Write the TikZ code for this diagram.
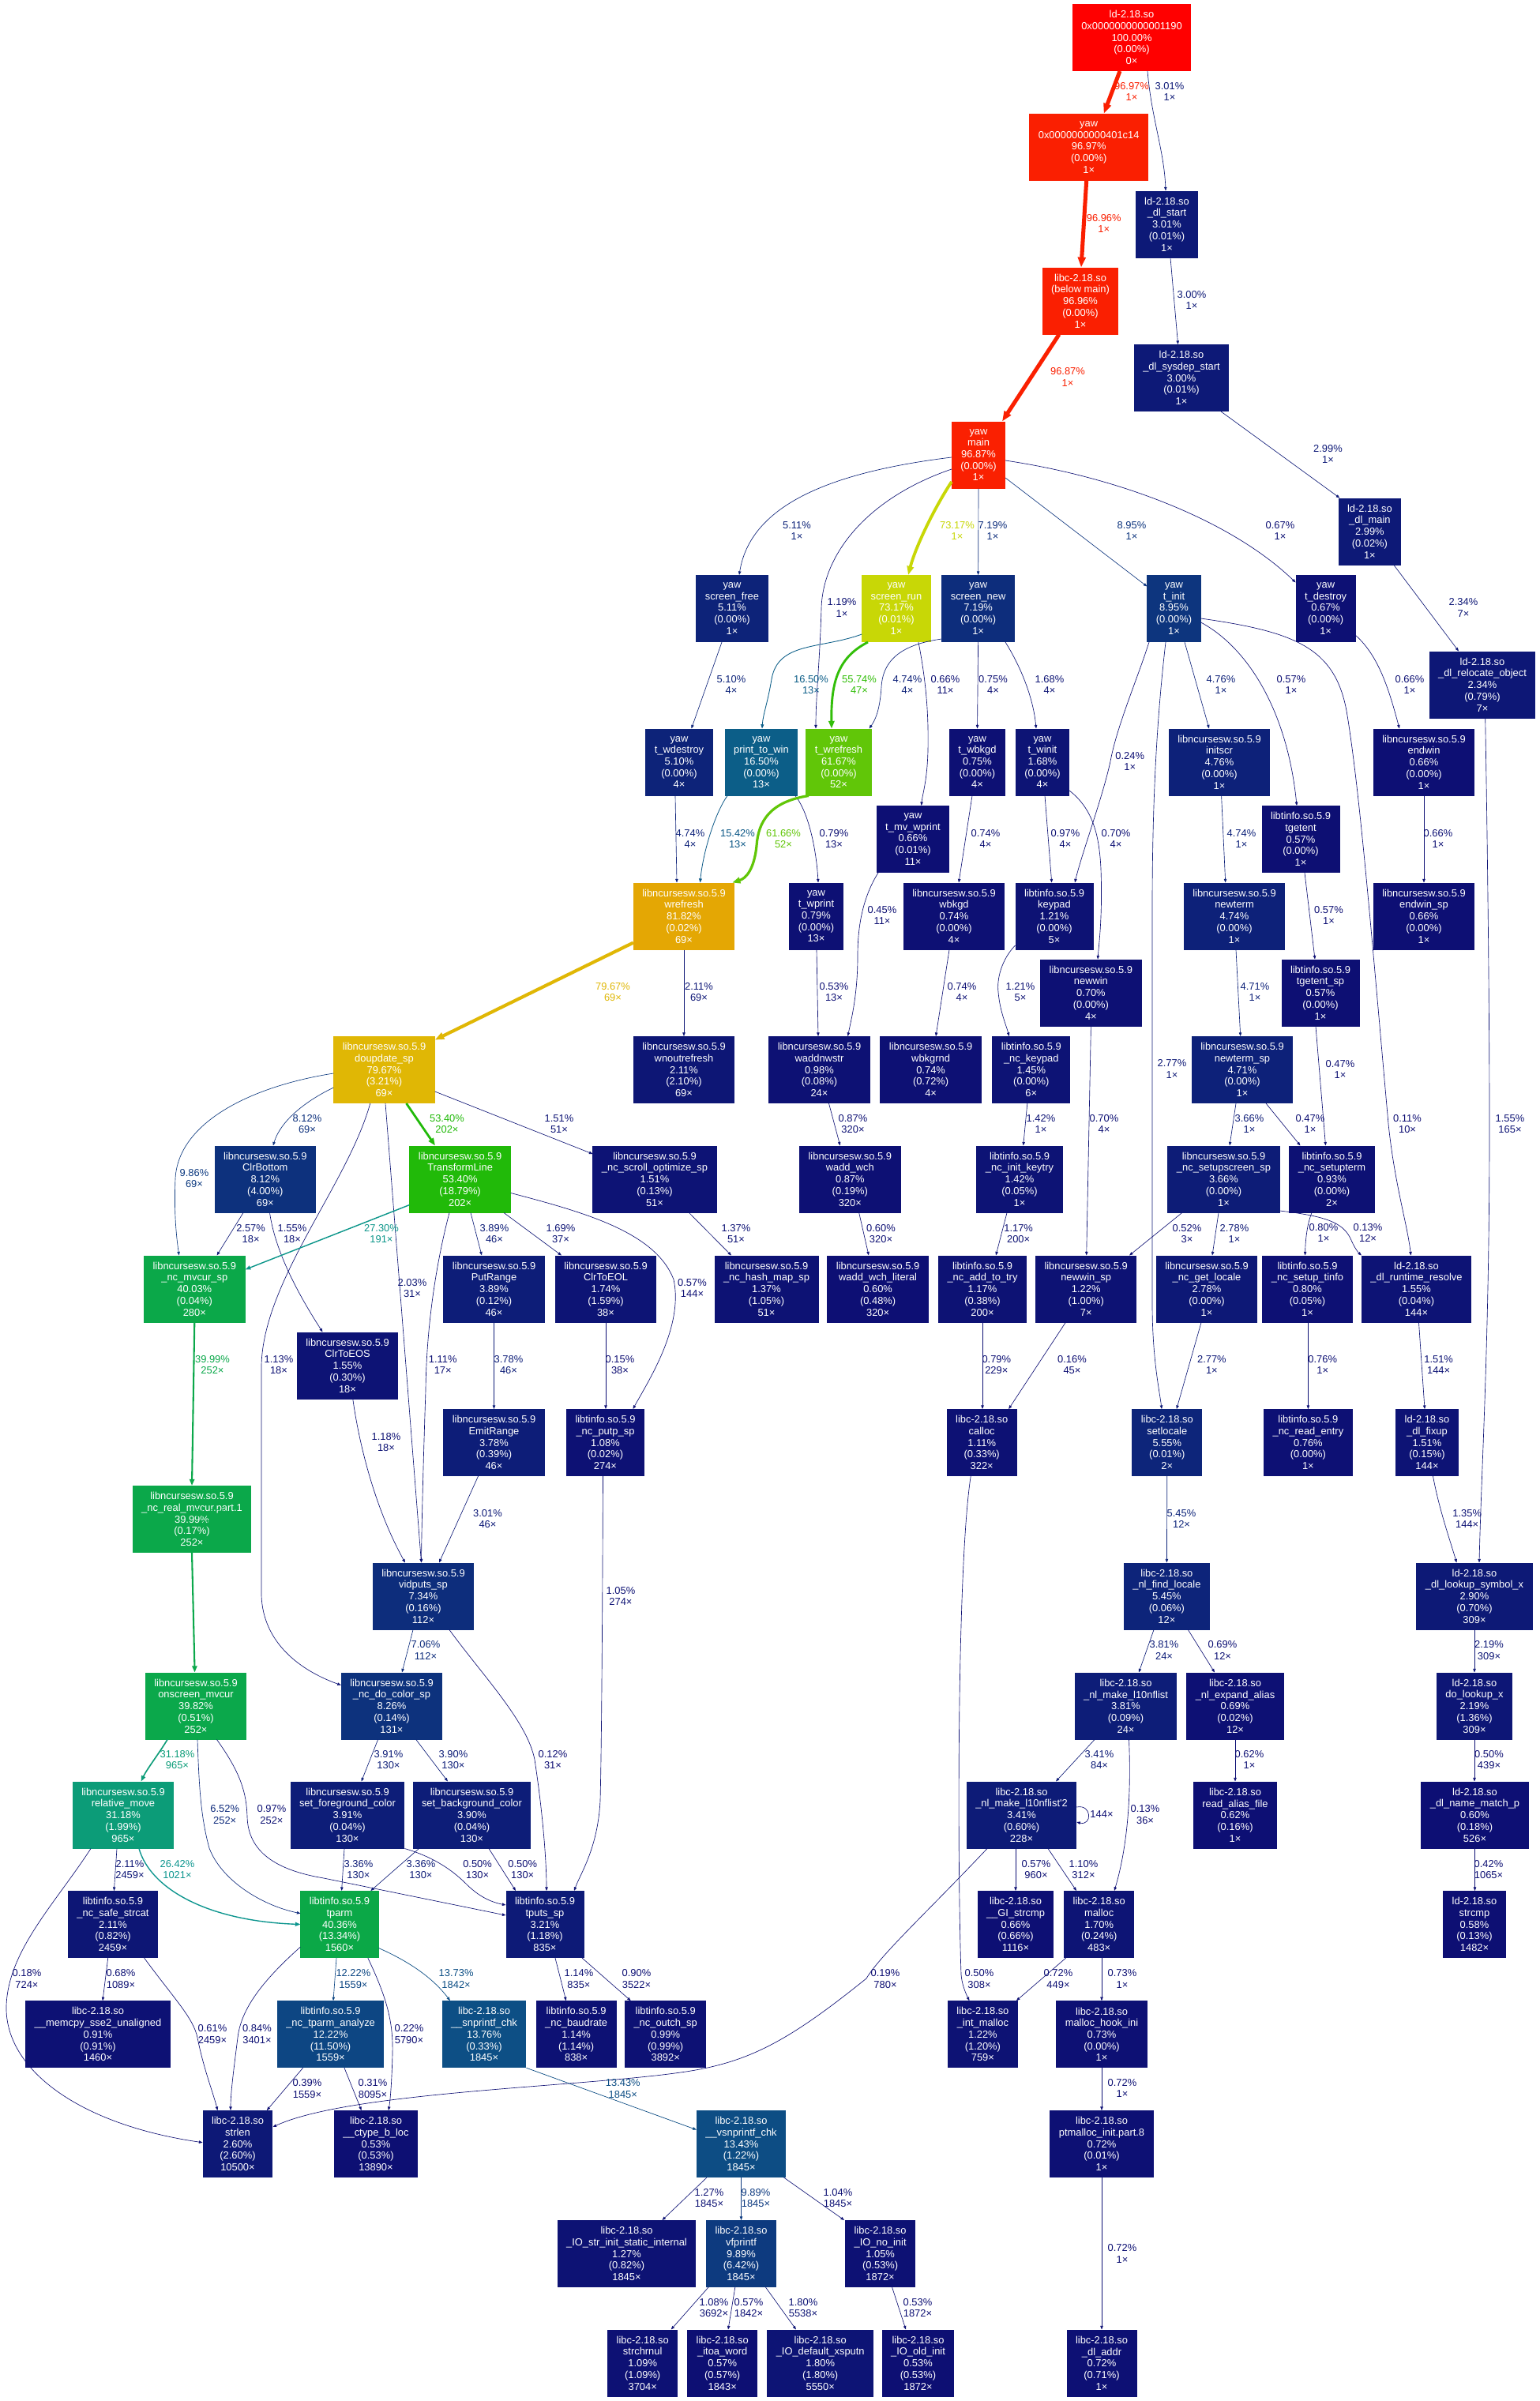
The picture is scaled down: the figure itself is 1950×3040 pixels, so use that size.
\documentclass[tikz,border=0pt]{standalone}
\usepackage{fontspec}
\setmainfont{Liberation Sans}
\usetikzlibrary{arrows.meta}

% hue -> channel helper of the HSL colour model
\newcommand\huergb[4]{%
  \pgfmathsetmacro\hhv{#3}%
  \pgfmathsetmacro\hhv{\hhv-floor(\hhv)}%
  \pgfmathsetmacro#4{#1}%
  \pgfmathparse{\hhv<1/6}%
  \ifdim\pgfmathresult pt>0.5pt
    \pgfmathsetmacro#4{#1+(#2-#1)*6*\hhv}%
  \else
    \pgfmathparse{\hhv<0.5}%
    \ifdim\pgfmathresult pt>0.5pt
      \pgfmathsetmacro#4{#2}%
    \else
      \pgfmathparse{\hhv<2/3}%
      \ifdim\pgfmathresult pt>0.5pt
        \pgfmathsetmacro#4{#1+(#2-#1)*(2/3-\hhv)*6}%
      \fi
    \fi
  \fi
  \pgfmathsetmacro#4{max(0,min(1,#4))}}

% temperature colour: blue (cold) -> red (hot), from a percentage
\newcommand\gpcol[2]{%
  \pgfmathsetmacro\gpw{min(1,max(0,#2/100))}%
  \pgfmathsetmacro\gph{2/3*(1-\gpw)}%
  \pgfmathsetmacro\gps{0.8+0.2*\gpw}%
  \pgfmathsetmacro\gpl{0.25+0.25*\gpw}%
  \pgfmathsetmacro\gpmb{\gpl*(\gps+1)}%
  \pgfmathsetmacro\gpma{2*\gpl-\gpmb}%
  \huergb\gpma\gpmb{\gph+1/3}\gpr
  \huergb\gpma\gpmb{\gph}\gpg
  \huergb\gpma\gpmb{\gph-1/3}\gpb
  \definecolor{#1}{rgb}{\gpr,\gpg,\gpb}}

% function box: name, x, y, library, function, total %, self %, calls
\newcommand\fnode[8]{%
  \gpcol{fc-#1}{#6}%
  \node[fnbox, fill=fc-#1] (#1) at (#2,#3) {#4\\#5\\#6\%\\(#7\%)\\#8×};}

% call edge: percent, calls, label x, label y, path
\newcounter{elab}
\newcommand\cedge[5]{%
  \gpcol{ec}{#1}%
  \pgfmathsetmacro\epw{1.3*max(0.04*#1,0.5)}%
  \pgfmathsetmacro\eal{6.5*sqrt(max(0.04*#1,0.5))}%
  \pgfmathsetmacro\eaw{0.75*\eal}%
  \stepcounter{elab}%
  \node[elab, text=ec] (lab\theelab) at (#3,#4) {#1\%\\#2×};
  \draw[draw=ec, line width=\epw pt, -{Triangle[length=\eal pt, width=\eaw pt]}] #5;}

\begin{document}
\begin{tikzpicture}[x=1pt,y=-1pt,
  every node/.style={font=\fontsize{12.9}{14.7}\selectfont},
  fnbox/.style={rectangle, inner xsep=11.5pt, inner ysep=0pt, minimum height=85pt,
    align=center, text=white, outer sep=0pt},
  elab/.style={inner sep=0pt, align=center}]

\fill[white] (0,0) rectangle (1950,3040);
\useasboundingbox (0,0) rectangle (1950,3040);

% ---------------- functions ----------------
\fnode{ldtop}{1433}{47.5}{ld-2.18.so}{0x0000000000001190}{100.00}{0.00}{0}
\fnode{yawent}{1378.7}{186.3}{yaw}{0x0000000000401c14}{96.97}{0.00}{1}
\fnode{dlstart}{1477.5}{284}{ld-2.18.so}{\_dl\_start}{3.01}{0.01}{1}
\fnode{belowmain}{1368}{381}{libc-2.18.so}{(below main)}{96.96}{0.00}{1}
\fnode{sysdep}{1496}{478.5}{ld-2.18.so}{\_dl\_sysdep\_start}{3.00}{0.01}{1}
\fnode{main}{1239}{576}{yaw}{main}{96.87}{0.00}{1}
\fnode{dlmain}{1734.4}{673}{ld-2.18.so}{\_dl\_main}{2.99}{0.02}{1}
\fnode{screenfree}{927}{770.5}{yaw}{screen\_free}{5.11}{0.00}{1}
\fnode{screenrun}{1135}{770.5}{yaw}{screen\_run}{73.17}{0.01}{1}
\fnode{screennew}{1238.6}{770.5}{yaw}{screen\_new}{7.19}{0.00}{1}
\fnode{tinit}{1486.5}{770.5}{yaw}{t\_init}{8.95}{0.00}{1}
\fnode{tdestroy}{1678.6}{770.5}{yaw}{t\_destroy}{0.67}{0.00}{1}
\fnode{reloc}{1877}{867}{ld-2.18.so}{\_dl\_relocate\_object}{2.34}{0.79}{7}
\fnode{twdestroy}{860}{965}{yaw}{t\_wdestroy}{5.10}{0.00}{4}
\fnode{printwin}{964}{965}{yaw}{print\_to\_win}{16.50}{0.00}{13}
\fnode{twrefresh}{1062}{965}{yaw}{t\_wrefresh}{61.67}{0.00}{52}
\fnode{twbkgd}{1237.5}{965}{yaw}{t\_wbkgd}{0.75}{0.00}{4}
\fnode{twinit}{1320}{965}{yaw}{t\_winit}{1.68}{0.00}{4}
\fnode{initscr}{1544}{965}{libncursesw.so.5.9}{initscr}{4.76}{0.00}{1}
\fnode{endwin}{1803}{965}{libncursesw.so.5.9}{endwin}{0.66}{0.00}{1}
\fnode{tmvwprint}{1156}{1062.5}{yaw}{t\_mv\_wprint}{0.66}{0.01}{11}
\fnode{tgetent}{1647}{1062.5}{libtinfo.so.5.9}{tgetent}{0.57}{0.00}{1}
\fnode{wrefresh}{866}{1160}{libncursesw.so.5.9}{wrefresh}{81.82}{0.02}{69}
\fnode{twprint}{1033.5}{1160}{yaw}{t\_wprint}{0.79}{0.00}{13}
\fnode{wbkgd}{1208}{1160}{libncursesw.so.5.9}{wbkgd}{0.74}{0.00}{4}
\fnode{keypad}{1335}{1160}{libtinfo.so.5.9}{keypad}{1.21}{0.00}{5}
\fnode{newterm}{1563}{1160}{libncursesw.so.5.9}{newterm}{4.74}{0.00}{1}
\fnode{endwinsp}{1803}{1160}{libncursesw.so.5.9}{endwin\_sp}{0.66}{0.00}{1}
\fnode{newwin}{1381.4}{1257}{libncursesw.so.5.9}{newwin}{0.70}{0.00}{4}
\fnode{tgetentsp}{1672}{1257}{libtinfo.so.5.9}{tgetent\_sp}{0.57}{0.00}{1}
\fnode{doupdate}{486.5}{1354.5}{libncursesw.so.5.9}{doupdate\_sp}{79.67}{3.21}{69}
\fnode{wnoutrefresh}{866}{1354.5}{libncursesw.so.5.9}{wnoutrefresh}{2.11}{2.10}{69}
\fnode{waddnwstr}{1037.5}{1354.5}{libncursesw.so.5.9}{waddnwstr}{0.98}{0.08}{24}
\fnode{wbkgrnd}{1178.6}{1354.5}{libncursesw.so.5.9}{wbkgrnd}{0.74}{0.72}{4}
\fnode{nckeypad}{1305.8}{1354.5}{libtinfo.so.5.9}{\_nc\_keypad}{1.45}{0.00}{6}
\fnode{newtermsp}{1573}{1354.5}{libncursesw.so.5.9}{newterm\_sp}{4.71}{0.00}{1}
\fnode{clrbottom}{335.8}{1493}{libncursesw.so.5.9}{ClrBottom}{8.12}{4.00}{69}
\fnode{transform}{582.6}{1493}{libncursesw.so.5.9}{TransformLine}{53.40}{18.79}{202}
\fnode{scrollopt}{829}{1493}{libncursesw.so.5.9}{\_nc\_scroll\_optimize\_sp}{1.51}{0.13}{51}
\fnode{waddwch}{1076.3}{1493}{libncursesw.so.5.9}{wadd\_wch}{0.87}{0.19}{320}
\fnode{initkeytry}{1291}{1493}{libtinfo.so.5.9}{\_nc\_init\_keytry}{1.42}{0.05}{1}
\fnode{setupscreen}{1549.5}{1493}{libncursesw.so.5.9}{\_nc\_setupscreen\_sp}{3.66}{0.00}{1}
\fnode{setupterm}{1686.5}{1493}{libtinfo.so.5.9}{\_nc\_setupterm}{0.93}{0.00}{2}
\fnode{mvcursp}{246.3}{1632}{libncursesw.so.5.9}{\_nc\_mvcur\_sp}{40.03}{0.04}{280}
\fnode{putrange}{625.5}{1632}{libncursesw.so.5.9}{PutRange}{3.89}{0.12}{46}
\fnode{clrtoeol}{767}{1632}{libncursesw.so.5.9}{ClrToEOL}{1.74}{1.59}{38}
\fnode{hashmap}{970.5}{1632}{libncursesw.so.5.9}{\_nc\_hash\_map\_sp}{1.37}{1.05}{51}
\fnode{waddwchlit}{1111.6}{1632}{libncursesw.so.5.9}{wadd\_wch\_literal}{0.60}{0.48}{320}
\fnode{addtotry}{1244}{1632}{libtinfo.so.5.9}{\_nc\_add\_to\_try}{1.17}{0.38}{200}
\fnode{newwinsp}{1375.2}{1632}{libncursesw.so.5.9}{newwin\_sp}{1.22}{1.00}{7}
\fnode{getlocale}{1528}{1632}{libncursesw.so.5.9}{\_nc\_get\_locale}{2.78}{0.00}{1}
\fnode{setuptinfo}{1655.5}{1632}{libtinfo.so.5.9}{\_nc\_setup\_tinfo}{0.80}{0.05}{1}
\fnode{rtresolve}{1793.5}{1632}{ld-2.18.so}{\_dl\_runtime\_resolve}{1.55}{0.04}{144}
\fnode{clrtoeos}{440}{1729}{libncursesw.so.5.9}{ClrToEOS}{1.55}{0.30}{18}
\fnode{emitrange}{625.5}{1826.5}{libncursesw.so.5.9}{EmitRange}{3.78}{0.39}{46}
\fnode{putpsp}{766.5}{1826.5}{libtinfo.so.5.9}{\_nc\_putp\_sp}{1.08}{0.02}{274}
\fnode{calloc}{1243.2}{1826.5}{libc-2.18.so}{calloc}{1.11}{0.33}{322}
\fnode{setlocale}{1477.8}{1826.5}{libc-2.18.so}{setlocale}{5.55}{0.01}{2}
\fnode{readentry}{1656.4}{1826.5}{libtinfo.so.5.9}{\_nc\_read\_entry}{0.76}{0.00}{1}
\fnode{dlfixup}{1807}{1826.5}{ld-2.18.so}{\_dl\_fixup}{1.51}{0.15}{144}
\fnode{realmvcur}{243}{1923.5}{libncursesw.so.5.9}{\_nc\_real\_mvcur.part.1}{39.99}{0.17}{252}
\fnode{vidputs}{536}{2021}{libncursesw.so.5.9}{vidputs\_sp}{7.34}{0.16}{112}
\fnode{findlocale}{1477.4}{2021}{libc-2.18.so}{\_nl\_find\_locale}{5.45}{0.06}{12}
\fnode{lookupsym}{1867}{2021}{ld-2.18.so}{\_dl\_lookup\_symbol\_x}{2.90}{0.70}{309}
\fnode{onscreen}{248}{2160}{libncursesw.so.5.9}{onscreen\_mvcur}{39.82}{0.51}{252}
\fnode{docolor}{496}{2160}{libncursesw.so.5.9}{\_nc\_do\_color\_sp}{8.26}{0.14}{131}
\fnode{makel10n}{1425.5}{2160}{libc-2.18.so}{\_nl\_make\_l10nflist}{3.81}{0.09}{24}
\fnode{expandalias}{1564}{2160}{libc-2.18.so}{\_nl\_expand\_alias}{0.69}{0.02}{12}
\fnode{dolookup}{1867}{2160}{ld-2.18.so}{do\_lookup\_x}{2.19}{1.36}{309}
\fnode{relmove}{156}{2298}{libncursesw.so.5.9}{relative\_move}{31.18}{1.99}{965}
\fnode{setfg}{440}{2298}{libncursesw.so.5.9}{set\_foreground\_color}{3.91}{0.04}{130}
\fnode{setbg}{597.5}{2298}{libncursesw.so.5.9}{set\_background\_color}{3.90}{0.04}{130}
\fnode{makel10ntwo}{1293.5}{2298}{libc-2.18.so}{\_nl\_make\_l10nflist\textquotesingle 2}{3.41}{0.60}{228}
\fnode{readalias}{1564}{2298}{libc-2.18.so}{read\_alias\_file}{0.62}{0.16}{1}
\fnode{namematch}{1867.5}{2298}{ld-2.18.so}{\_dl\_name\_match\_p}{0.60}{0.18}{526}
\fnode{safestrcat}{143}{2436.5}{libtinfo.so.5.9}{\_nc\_safe\_strcat}{2.11}{0.82}{2459}
\fnode{tparm}{430}{2436.5}{libtinfo.so.5.9}{tparm}{40.36}{13.34}{1560}
\fnode{tputs}{690}{2436.5}{libtinfo.so.5.9}{tputs\_sp}{3.21}{1.18}{835}
\fnode{gistrcmp}{1286}{2436.5}{libc-2.18.so}{\_\_GI\_strcmp}{0.66}{0.66}{1116}
\fnode{malloc}{1391.7}{2436.5}{libc-2.18.so}{malloc}{1.70}{0.24}{483}
\fnode{ldstrcmp}{1867}{2436.5}{ld-2.18.so}{strcmp}{0.58}{0.13}{1482}
\fnode{memcpy}{124}{2575.7}{libc-2.18.so}{\_\_memcpy\_sse2\_unaligned}{0.91}{0.91}{1460}
\fnode{tparmanalyze}{418.6}{2575.7}{libtinfo.so.5.9}{\_nc\_tparm\_analyze}{12.22}{11.50}{1559}
\fnode{snprintf}{613}{2575.7}{libc-2.18.so}{\_\_snprintf\_chk}{13.76}{0.33}{1845}
\fnode{baudrate}{729.6}{2575.7}{libtinfo.so.5.9}{\_nc\_baudrate}{1.14}{1.14}{838}
\fnode{outch}{842.7}{2575.7}{libtinfo.so.5.9}{\_nc\_outch\_sp}{0.99}{0.99}{3892}
\fnode{intmalloc}{1244.4}{2575.7}{libc-2.18.so}{\_int\_malloc}{1.22}{1.20}{759}
\fnode{hookini}{1395}{2575.7}{libc-2.18.so}{malloc\_hook\_ini}{0.73}{0.00}{1}
\fnode{strlen}{301}{2714.5}{libc-2.18.so}{strlen}{2.60}{2.60}{10500}
\fnode{ctypeb}{476}{2714.5}{libc-2.18.so}{\_\_ctype\_b\_loc}{0.53}{0.53}{13890}
\fnode{vsnprintf}{938.5}{2714.5}{libc-2.18.so}{\_\_vsnprintf\_chk}{13.43}{1.22}{1845}
\fnode{ptmalloc}{1395}{2714.5}{libc-2.18.so}{ptmalloc\_init.part.8}{0.72}{0.01}{1}
\fnode{iostrinit}{793.5}{2853.5}{libc-2.18.so}{\_IO\_str\_init\_static\_internal}{1.27}{0.82}{1845}
\fnode{vfprintf}{938.5}{2853.5}{libc-2.18.so}{vfprintf}{9.89}{6.42}{1845}
\fnode{ionoinit}{1114.6}{2853.5}{libc-2.18.so}{\_IO\_no\_init}{1.05}{0.53}{1872}
\fnode{strchrnul}{813.7}{2992}{libc-2.18.so}{strchrnul}{1.09}{1.09}{3704}
\fnode{itoaword}{914.7}{2992}{libc-2.18.so}{\_itoa\_word}{0.57}{0.57}{1843}
\fnode{xsputn}{1038.7}{2992}{libc-2.18.so}{\_IO\_default\_xsputn}{1.80}{1.80}{5550}
\fnode{oldinit}{1162.5}{2992}{libc-2.18.so}{\_IO\_old\_init}{0.53}{0.53}{1872}
\fnode{dladdr}{1395}{2992}{libc-2.18.so}{\_dl\_addr}{0.72}{0.71}{1}

% ---------------- calls ----------------
% loader and start-up chain
\cedge{96.97}{1}{1433}{116}{([xshift=-15pt]ldtop.south) -- ([xshift=19pt]yawent.north)}
\cedge{3.01}{1}{1481}{116}{([xshift=20pt]ldtop.south) .. controls (1458,150) and (1474,190) .. ([xshift=-1.5pt]dlstart.north)}
\cedge{96.96}{1}{1397.7}{283}{([xshift=-3pt]yawent.south) -- ([xshift=1pt]belowmain.north)}
\cedge{3.00}{1}{1509}{380}{([xshift=4.5pt]dlstart.south) -- ([xshift=-4.4pt]sysdep.north)}
\cedge{96.87}{1}{1352}{477.5}{([xshift=-27pt]belowmain.south) -- ([xshift=30pt]main.north)}
\cedge{2.99}{1}{1681.5}{575}{([xshift=50pt]sysdep.south) -- ([xshift=-38pt]dlmain.north)}
\cedge{2.34}{7}{1853}{769.5}{([xshift=30.6pt]dlmain.south) -- ([xshift=-30pt]reloc.north)}
\cedge{1.55}{165}{1912}{1423}{([xshift=3.7pt]reloc.south) .. controls (1884,1100) and (1886,1300) .. (1886,1423) .. controls (1886,1700) and (1876,1850) .. ([xshift=6pt]lookupsym.north)}

% main
\cedge{5.11}{1}{1009}{672}{([yshift=-3pt]main.west) .. controls (1050,598) and (950,640) .. ([xshift=9pt]screenfree.north)}
\cedge{73.17}{1}{1212}{672}{([yshift=-34pt]main.west) .. controls (1185,640) and (1160,690) .. ([xshift=15pt]screenrun.north)}
\cedge{7.19}{1}{1257}{672}{(main.south) -- (screennew.north)}
\cedge{8.95}{1}{1433}{672}{([yshift=-29pt]main.east) -- ([yshift=28pt]tinit.west)}
\cedge{0.67}{1}{1621}{672}{([yshift=-7pt]main.east) .. controls (1420,605) and (1560,660) .. ([yshift=33pt]tdestroy.west)}
\cedge{1.19}{1}{1066}{769.5}{([yshift=-18pt]main.west) .. controls (1100,630) and (1042,700) .. (1040,770) .. controls (1038,840) and (1033,880) .. ([xshift=-29pt]twrefresh.north)}

% screen_free, screen_run, screen_new
\cedge{5.10}{4}{926}{867}{([xshift=-13pt]screenfree.south) -- ([xshift=15.5pt]twdestroy.north)}
\cedge{16.50}{13}{1027}{867}{([yshift=-32.5pt]screenrun.west) .. controls (1040,822) and (985,812) .. (977,860) .. controls (972,890) and (966,905) .. ([xshift=1pt]printwin.north)}
\cedge{55.74}{47}{1088}{867}{([xshift=-36pt]screenrun.south) .. controls (1062,832) and (1052,862) .. ([xshift=-9pt]twrefresh.north)}
\cedge{0.66}{11}{1197}{867}{([xshift=28pt]screenrun.south) .. controls (1172,860) and (1176,900) .. (1175,950) .. controls (1174,990) and (1168,1005) .. ([xshift=10.7pt]tmvwprint.north)}
\cedge{4.74}{4}{1149}{867}{([yshift=-38.5pt]screennew.west) .. controls (1150,815) and (1118,830) .. (1116,870) .. controls (1114,900) and (1108,912) .. ([xshift=-3pt]twrefresh.north east)}
\cedge{0.75}{4}{1257.5}{867}{(screennew.south) -- (twbkgd.north)}
\cedge{1.68}{4}{1329}{867}{([xshift=34.4pt]screennew.south) .. controls (1290,840) and (1308,880) .. ([xshift=-8pt]twinit.north)}

% t_init, t_destroy
\cedge{4.76}{1}{1546}{867}{([xshift=13.5pt]tinit.south) -- ([xshift=-13pt]initscr.north)}
\cedge{0.57}{1}{1635}{867}{([yshift=-17.5pt]tinit.east) .. controls (1580,820) and (1630,900) .. ([xshift=-5pt]tgetent.north)}
\cedge{0.24}{1}{1430.7}{964}{([xshift=-31.5pt]tinit.south) .. controls (1440,860) and (1414,920) .. (1406,964) .. controls (1396,1010) and (1370,1080) .. ([xshift=26pt]keypad.north)}
\cedge{2.77}{1}{1484}{1353.7}{([xshift=-10.5pt]tinit.south) .. controls (1466,900) and (1459,1000) .. (1459,1150) -- (1459,1650) .. controls (1459,1720) and (1468,1760) .. ([xshift=-6.8pt]setlocale.north)}
\cedge{0.11}{10}{1782}{1423}{([yshift=-12.5pt]tinit.east) .. controls (1640,800) and (1690,820) .. (1705,900) .. controls (1722,1000) and (1738,1200) .. (1758,1423) .. controls (1766,1500) and (1782,1550) .. ([xshift=-7pt]rtresolve.north)}
\cedge{0.66}{1}{1785}{867}{([yshift=-34pt]tdestroy.east) .. controls (1745,830) and (1758,870) .. ([xshift=-31pt]endwin.north)}

% second level of yaw
\cedge{4.74}{4}{874}{1062}{([xshift=-5pt]twdestroy.south) -- ([xshift=-9pt]wrefresh.north)}
\cedge{15.42}{13}{934}{1062}{([xshift=-43pt]printwin.south) .. controls (905,1030) and (890,1080) .. ([xshift=20.5pt]wrefresh.north)}
\cedge{0.79}{13}{1056}{1062}{([xshift=43pt]printwin.south) .. controls (1025,1030) and (1034,1080) .. ([xshift=2.5pt]twprint.north)}
\cedge{61.66}{52}{992}{1062}{([xshift=-38pt]twrefresh.south) .. controls (975,1015) and (960,1040) .. (958,1071) .. controls (955,1100) and (945,1112) .. ([xshift=-3pt]wrefresh.north east)}
\cedge{0.74}{4}{1248}{1062}{([xshift=-6.5pt]twbkgd.south) -- ([xshift=6pt]wbkgd.north)}
\cedge{0.97}{4}{1349}{1062}{([xshift=3pt]twinit.south) -- ([xshift=-3.3pt]keypad.north)}
\cedge{0.70}{4}{1413}{1062}{([yshift=-36pt]twinit.east) .. controls (1385,1025) and (1392,1060) .. (1394,1100) .. controls (1396,1160) and (1392,1190) .. ([xshift=8.6pt]newwin.north)}
\cedge{4.74}{1}{1572}{1062}{([xshift=2.6pt]initscr.south) -- ([xshift=-11.3pt]newterm.north)}
\cedge{0.66}{1}{1821}{1062}{(endwin.south) -- (endwinsp.north)}
\cedge{0.45}{11}{1117}{1159}{([xshift=-44pt]tmvwprint.south) .. controls (1090,1140) and (1086,1180) .. (1086,1210) .. controls (1086,1260) and (1078,1290) .. ([xshift=36pt]waddnwstr.north)}
\cedge{0.57}{1}{1682.5}{1159}{([xshift=5pt]tgetent.south) -- ([xshift=-7pt]tgetentsp.north)}

% curses entry points
\cedge{79.67}{69}{776}{1256}{([yshift=-33.6pt]wrefresh.west) -- ([yshift=-4.6pt]doupdate.north east)}
\cedge{2.11}{69}{885}{1256}{(wrefresh.south) -- (wnoutrefresh.north)}
\cedge{0.53}{13}{1056}{1256}{([xshift=0.5pt]twprint.south) -- ([xshift=-1.5pt]waddnwstr.north)}
\cedge{0.74}{4}{1218}{1256}{([xshift=-6pt]wbkgd.south) -- ([xshift=6.4pt]wbkgrnd.north)}
\cedge{1.21}{5}{1292}{1256}{([yshift=-37pt]keypad.west) .. controls (1268,1215) and (1262,1240) .. (1264,1256) .. controls (1266,1280) and (1274,1298) .. ([xshift=-28pt]nckeypad.north)}
\cedge{4.71}{1}{1589}{1256}{([xshift=2pt]newterm.south) -- ([xshift=-2.3pt]newtermsp.north)}
\cedge{0.47}{1}{1697}{1354}{([xshift=-6pt]tgetentsp.south) -- ([xshift=-8pt]setupterm.north)}
\cedge{0.70}{4}{1398}{1423}{(newwin.south) -- ([xshift=0.5pt]newwinsp.north)}

% doupdate_sp and friends
\cedge{8.12}{69}{389}{1423}{([yshift=-22.5pt]doupdate.west) .. controls (385,1395) and (355,1420) .. ([xshift=10pt]clrbottom.north)}
\cedge{9.86}{69}{246}{1492}{([yshift=-4.5pt]doupdate.west) .. controls (320,1375) and (226,1420) .. (222,1492) .. controls (220,1540) and (224,1570) .. ([xshift=-19.6pt]mvcursp.north)}
\cedge{53.40}{202}{566}{1423}{([xshift=28pt]doupdate.south) -- ([xshift=-31.6pt]transform.north)}
\cedge{1.51}{51}{708}{1423}{([yshift=-27.5pt]doupdate.east) -- ([yshift=32pt]scrollopt.west)}
\cedge{2.03}{31}{522}{1631}{([xshift=1.5pt]doupdate.south) -- ([xshift=-2.5pt]vidputs.north)}
\cedge{1.13}{18}{353}{1728}{([xshift=-17.7pt]doupdate.south) .. controls (440,1500) and (334,1620) .. (331,1728) -- (331,2020) .. controls (333,2080) and (380,2115) .. ([yshift=26.4pt]docolor.west)}
\cedge{0.87}{320}{1080}{1423}{([xshift=12pt]waddnwstr.south) -- ([xshift=-12.5pt]waddwch.north)}
\cedge{1.42}{1}{1318}{1423}{([xshift=-5pt]nckeypad.south) -- ([xshift=4.7pt]initkeytry.north)}
\cedge{3.66}{1}{1582}{1423}{([xshift=-8pt]newtermsp.south) -- ([xshift=7.5pt]setupscreen.north)}
\cedge{0.47}{1}{1659}{1423}{([xshift=30pt]newtermsp.south) -- ([xshift=-40pt]setupterm.north)}

\cedge{2.57}{18}{317.6}{1562}{([xshift=-27.8pt]clrbottom.south) -- ([xshift=28.3pt]mvcursp.north)}
\cedge{1.55}{18}{370}{1562}{([xshift=5.7pt]clrbottom.south) .. controls (348,1580) and (372,1630) .. ([xshift=-31.5pt]clrtoeos.north)}
\cedge{27.30}{191}{483}{1562}{([yshift=-32.6pt]transform.west) -- ([yshift=24.6pt]mvcursp.east)}
\cedge{3.89}{46}{626}{1562}{([xshift=13.4pt]transform.south) -- ([xshift=-15.5pt]putrange.north)}
\cedge{1.69}{37}{710}{1562}{([xshift=55.4pt]transform.south) -- ([xshift=-56pt]clrtoeol.north)}
\cedge{0.57}{144}{876.5}{1631}{([yshift=-17.5pt]transform.east) .. controls (740,1535) and (830,1560) .. (853,1620) .. controls (866,1680) and (820,1750) .. ([xshift=35pt]putpsp.north)}
\cedge{1.11}{17}{560.7}{1728}{([xshift=-13.6pt]transform.south) .. controls (552,1600) and (540,1680) .. (539,1760) .. controls (536,1850) and (534,1930) .. ([xshift=-2.5pt]vidputs.north)}
\cedge{1.37}{51}{932}{1562}{([xshift=43.5pt]scrollopt.south) -- ([xshift=-44.5pt]hashmap.north)}
\cedge{0.60}{320}{1115.5}{1562}{([xshift=11.4pt]waddwch.south) -- ([xshift=-11.6pt]waddwchlit.north)}
\cedge{1.17}{200}{1289.6}{1562}{([xshift=-16pt]initkeytry.south) -- ([xshift=17pt]addtotry.north)}
\cedge{0.52}{3}{1503}{1562}{([xshift=-52.8pt]setupscreen.south) -- ([xshift=54.8pt]newwinsp.north)}
\cedge{2.78}{1}{1563}{1562}{([xshift=-6.5pt]setupscreen.south) -- ([xshift=7pt]getlocale.north)}
\cedge{0.13}{12}{1732}{1561}{([yshift=-40pt]setupscreen.east) .. controls (1680,1540) and (1700,1548) .. (1710,1568) .. controls (1715,1580) and (1720,1586) .. (rtresolve.north west)}
\cedge{0.80}{1}{1676}{1561}{([xshift=-25.5pt]setupterm.south) .. controls (1655,1550) and (1653,1570) .. ([xshift=-3pt]setuptinfo.north)}

\cedge{39.99}{252}{269}{1728}{(mvcursp.south) -- (realmvcur.north)}
\cedge{3.78}{46}{644}{1728}{(putrange.south) -- (emitrange.north)}
\cedge{0.15}{38}{785}{1728}{(clrtoeol.south) -- ([xshift=0.5pt]putpsp.north)}
\cedge{0.79}{229}{1261.8}{1728}{(addtotry.south) -- ([xshift=0.8pt]calloc.north)}
\cedge{0.16}{45}{1357.5}{1728}{([xshift=-26pt]newwinsp.south) -- ([xshift=34pt]calloc.north)}
\cedge{2.77}{1}{1534.4}{1728}{([xshift=-7pt]getlocale.south) -- ([xshift=12pt]setlocale.north)}
\cedge{0.76}{1}{1674.7}{1728}{([xshift=0.9pt]setuptinfo.south) -- (readentry.north)}
\cedge{1.51}{144}{1821.6}{1728}{([xshift=3pt]rtresolve.south) -- ([xshift=-3pt]dlfixup.north)}
\cedge{1.18}{18}{489}{1826}{([xshift=6.8pt]clrtoeos.south) .. controls (455,1830) and (475,1910) .. ([xshift=-23pt]vidputs.north)}

\cedge{3.01}{46}{617.5}{1923}{([xshift=-20pt]emitrange.south) -- ([xshift=20pt]vidputs.north)}
\cedge{1.05}{274}{786}{2021}{([xshift=-3pt]putpsp.south) .. controls (763,2000) and (762,2200) .. (760,2280) .. controls (757,2340) and (735,2372) .. ([xshift=37pt]tputs.north)}
\cedge{0.50}{308}{1240}{2505.5}{([xshift=-14pt]calloc.south) .. controls (1212,1980) and (1212,2350) .. (1217,2500) .. controls (1218,2512) and (1222,2522) .. ([xshift=-17pt]intmalloc.north)}
\cedge{5.45}{12}{1496}{1923}{(setlocale.south) -- (findlocale.north)}
\cedge{1.35}{144}{1857.7}{1923}{([xshift=7.5pt]dlfixup.south) .. controls (1822,1910) and (1836,1950) .. ([xshift=-22.6pt]lookupsym.north)}
\cedge{39.82}{252}{269}{1923}{(realmvcur.south) -- ([xshift=-1.4pt]onscreen.north)}

\cedge{7.06}{112}{539}{2089.5}{([xshift=-13pt]vidputs.south) -- ([xshift=13pt]docolor.north)}
\cedge{0.12}{31}{700}{2228}{([xshift=33pt]vidputs.south) .. controls (610,2120) and (668,2180) .. (677,2228) .. controls (688,2300) and (692,2360) .. ([xshift=2pt]tputs.north)}
\cedge{3.81}{24}{1474}{2089.5}{([xshift=-16.4pt]findlocale.south) -- ([xshift=16.5pt]makel10n.north)}
\cedge{0.69}{12}{1548}{2089.5}{([xshift=27pt]findlocale.south) -- ([xshift=-26pt]expandalias.north)}
\cedge{2.19}{309}{1885.5}{2089.5}{(lookupsym.south) -- (dolookup.north)}

\cedge{31.18}{965}{224.5}{2228}{([xshift=-36pt]onscreen.south) .. controls (200,2222) and (186,2240) .. ([xshift=22.6pt]relmove.north)}
\cedge{6.52}{252}{284.7}{2297.5}{([xshift=2pt]onscreen.south) .. controls (252,2260) and (254,2300) .. (265,2340) .. controls (280,2380) and (330,2412) .. ([yshift=13.8pt]tparm.west)}
\cedge{0.97}{252}{344}{2297.5}{([xshift=26.5pt]onscreen.south) .. controls (305,2245) and (312,2270) .. (313,2300) .. controls (314,2345) and (350,2368) .. (410,2378) -- ([yshift=11.5pt]tputs.west)}
\cedge{3.91}{130}{492}{2228}{([xshift=-17.4pt]docolor.south) -- ([xshift=17.6pt]setfg.north)}
\cedge{3.90}{130}{574}{2228}{([xshift=30.8pt]docolor.south) -- ([xshift=-30.5pt]setbg.north)}
\cedge{3.41}{84}{1392}{2228}{([xshift=-39.5pt]makel10n.south) -- ([xshift=43.5pt]makel10ntwo.north)}
\cedge{0.13}{36}{1450}{2297.5}{([xshift=4pt]makel10n.south) .. controls (1432,2260) and (1430,2330) .. ([xshift=19.3pt]malloc.north)}
\cedge{0.62}{1}{1582}{2228}{(expandalias.south) -- (readalias.north)}
\cedge{0.50}{439}{1885.5}{2228}{(dolookup.south) -- ([xshift=-0.5pt]namematch.north)}

% recursion of _nl_make_l10nflist
\gpcol{ec}{0}
\node[elab, text=ec] (selflab) at (1395,2297) {144×};
\draw[draw=ec, line width=0.65pt, -{Triangle[length=4.6pt, width=3.4pt]}] ([yshift=10pt]makel10ntwo.east) .. controls (1383,2284) and (1383,2312) .. ([yshift=-9pt]makel10ntwo.east);

\cedge{2.11}{2459}{164.5}{2367}{([xshift=-8pt]relmove.south) -- ([xshift=1.4pt]safestrcat.north)}
\cedge{26.42}{1021}{224.5}{2367}{([xshift=20pt]relmove.south) .. controls (190,2390) and (260,2432) .. (tparm.west)}
\cedge{0.18}{724}{34}{2505.5}{([xshift=-41pt]relmove.south) .. controls (70,2410) and (10,2470) .. (8,2540) .. controls (6,2620) and (100,2690) .. ([yshift=1.8pt]strlen.west)}
\cedge{3.36}{130}{454}{2367}{([xshift=-4pt]setfg.south) -- ([xshift=2.6pt]tparm.north)}
\cedge{0.50}{130}{604.6}{2367}{(setfg.south east) .. controls (545,2350) and (570,2365) .. (590,2385) .. controls (605,2400) and (620,2408) .. ([yshift=24.5pt]tputs.west)}
\cedge{3.36}{130}{533}{2367}{([xshift=-67pt]setbg.south) -- ([xshift=39.4pt]tparm.north)}
\cedge{0.50}{130}{661.7}{2367}{([xshift=21.5pt]setbg.south) -- ([xshift=-37pt]tputs.north)}
\cedge{0.57}{960}{1312}{2367}{([xshift=-7.5pt]makel10ntwo.south) -- (gistrcmp.north)}
\cedge{1.10}{312}{1372}{2367}{([xshift=33.5pt]makel10ntwo.south) -- ([xshift=-28.7pt]malloc.north)}
\cedge{0.19}{780}{1121}{2505.5}{([xshift=-43.5pt]makel10ntwo.south) .. controls (1175,2420) and (1115,2475) .. (1097,2505) .. controls (1010,2575) and (960,2605) .. (891,2619) .. controls (780,2642) and (450,2645) .. ([yshift=21.5pt]strlen.east)}
\cedge{0.42}{1065}{1885}{2367}{(namematch.south) -- ([xshift=0.5pt]ldstrcmp.north)}

\cedge{0.68}{1089}{153}{2505.5}{([xshift=-6.3pt]safestrcat.south) -- ([xshift=6pt]memcpy.north)}
\cedge{0.61}{2459}{269}{2575.5}{([xshift=39.6pt]safestrcat.south) .. controls (220,2530) and (245,2555) .. (250,2580) .. controls (258,2620) and (270,2650) .. ([xshift=-25.5pt]strlen.north)}
\cedge{12.22}{1559}{447.4}{2505.5}{([xshift=-4pt]tparm.south) -- ([xshift=3.4pt]tparmanalyze.north)}
\cedge{13.73}{1842}{577.6}{2505.5}{([yshift=-30pt]tparm.east) .. controls (510,2480) and (545,2500) .. ([xshift=-43pt]snprintf.north)}
\cedge{0.84}{3401}{325.5}{2575.5}{([yshift=-28.5pt]tparm.west) .. controls (330,2510) and (305,2545) .. (301,2580) .. controls (296,2620) and (292,2650) .. ([xshift=-9pt]strlen.north)}
\cedge{0.22}{5790}{518}{2575.5}{([xshift=35.8pt]tparm.south) .. controls (490,2530) and (498,2560) .. (497,2600) .. controls (496,2640) and (494,2660) .. ([xshift=16pt]ctypeb.north)}
\cedge{1.14}{835}{733}{2505.5}{([xshift=13pt]tputs.south) -- ([xshift=-12.8pt]baudrate.north)}
\cedge{0.90}{3522}{806}{2505.5}{([xshift=47pt]tputs.south) -- ([xshift=-44pt]outch.north)}
\cedge{0.72}{449}{1340}{2505.5}{([xshift=-42pt]malloc.south) -- ([xshift=-2pt]intmalloc.north east)}
\cedge{0.73}{1}{1421}{2505.5}{([xshift=3.3pt]malloc.south) -- (hookini.north)}
\cedge{0.72}{1}{1421}{2644}{(hookini.south) -- (ptmalloc.north)}
\cedge{0.72}{1}{1421}{2853.5}{(ptmalloc.south) -- (dladdr.north)}

\cedge{0.39}{1559}{389}{2644.5}{([xshift=-35pt]tparmanalyze.south) -- ([xshift=36.8pt]strlen.north)}
\cedge{0.31}{8095}{472}{2644.5}{([xshift=17.4pt]tparmanalyze.south) -- ([xshift=-18.3pt]ctypeb.north)}
\cedge{13.43}{1845}{788.8}{2644.3}{(snprintf.south east) -- ([yshift=18pt]vsnprintf.west)}
\cedge{1.27}{1845}{898}{2783}{([xshift=-43.5pt]vsnprintf.south) -- ([xshift=45pt]iostrinit.north)}
\cedge{9.89}{1845}{957}{2783}{(vsnprintf.south) -- (vfprintf.north)}
\cedge{1.04}{1845}{1061}{2783}{([xshift=54pt]vsnprintf.south) -- ([xshift=-45.6pt]ionoinit.north)}
\cedge{1.08}{3692}{904}{2922}{([xshift=-41.5pt]vfprintf.south) -- ([xshift=36pt]strchrnul.north)}
\cedge{0.57}{1842}{948}{2922}{([xshift=-7.7pt]vfprintf.south) -- ([xshift=7.3pt]itoaword.north)}
\cedge{1.80}{5538}{1017}{2922}{([xshift=31pt]vfprintf.south) -- ([xshift=-30.7pt]xsputn.north)}
\cedge{0.53}{1872}{1162}{2922}{([xshift=15pt]ionoinit.south) -- ([xshift=-15.5pt]oldinit.north)}

\end{tikzpicture}
\end{document}
